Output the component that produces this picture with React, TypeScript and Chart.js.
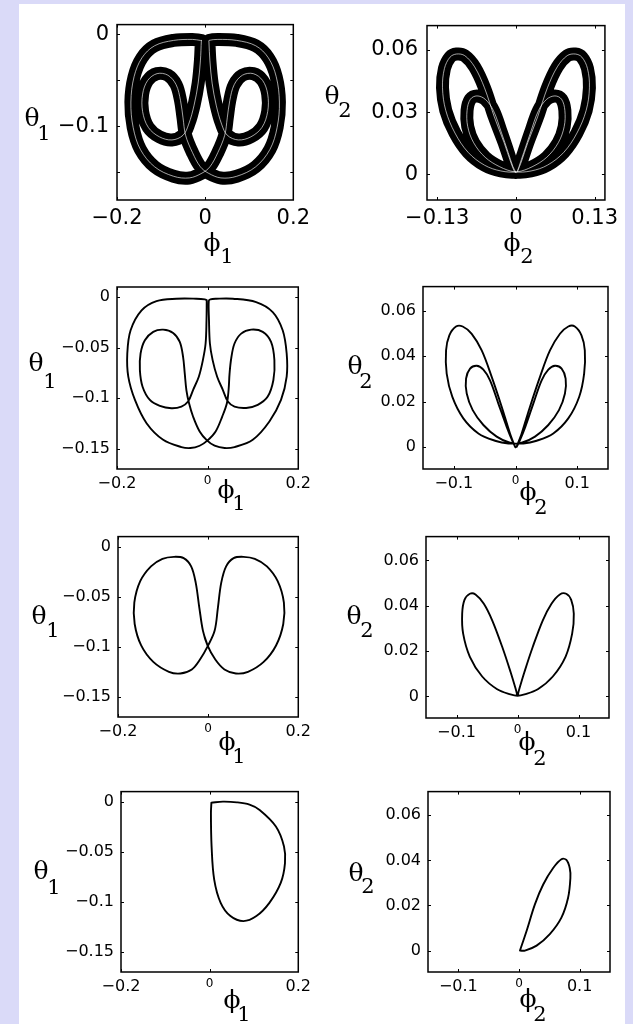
import React, { useEffect, useRef } from "react";
import { Chart, registerables } from "chart.js";

Chart.register(...registerables);

type Pt = [number, number];

// ---------- tick values and tick labels ----------
const PHI1_TICKS = [-0.2, 0, 0.2];
const PHI1_LABELS = ["\u22120.2", "0", "0.2"];
const THETA1_TICKS = [0, -0.05, -0.1, -0.15];
const THETA1_LABELS_TOP = ["0", "", "\u22120.1", ""];
const THETA1_LABELS = ["0", "\u22120.05", "\u22120.1", "\u22120.15"];

const PHI2_TICKS_TOP = [-0.13, 0, 0.13];
const PHI2_LABELS_TOP = ["\u22120.13", "0", "0.13"];
const THETA2_TICKS_TOP = [0, 0.03, 0.06];
const THETA2_LABELS_TOP = ["0", "0.03", "0.06"];
const PHI2_TICKS = [-0.1, 0, 0.1];
const PHI2_LABELS = ["\u22120.1", "0", "0.1"];
const THETA2_TICKS = [0, 0.02, 0.04, 0.06];
const THETA2_LABELS = ["0", "0.02", "0.04", "0.06"];

// ---------- trajectories (phi, theta) ----------
// chaotic attractor, pendulum 1
const CHAOS_1: Pt[] = [
  [-0.0086, -0.0069], [-0.0108, -0.0292], [-0.0158, -0.0533], [-0.0251, -0.0773], [-0.0373, -0.0979],
  [-0.0502, -0.11], [-0.0753, -0.1151], [-0.1039, -0.1117], [-0.129, -0.1014], [-0.1419, -0.0842],
  [-0.1419, -0.0653], [-0.1305, -0.0505], [-0.109, -0.043], [-0.0846, -0.0447], [-0.0659, -0.055],
  [-0.0559, -0.0722], [-0.0502, -0.0911], [-0.0444, -0.11], [-0.0287, -0.1289], [-0.0108, -0.1443],
  [0.0072, -0.1512], [0.0358, -0.1564], [0.0717, -0.1546], [0.1147, -0.1443], [0.147, -0.1254],
  [0.1634, -0.1014], [0.1685, -0.0739], [0.1613, -0.0464], [0.1434, -0.0258], [0.1147, -0.0127],
  [0.0717, -0.0069], [0.0287, -0.0058], [0.0086, -0.0069],
  [0.0086, -0.0086], [0.0108, -0.0292], [0.0158, -0.0533], [0.0251, -0.0773], [0.0373, -0.0979],
  [0.0502, -0.11], [0.0753, -0.1151], [0.1039, -0.1117], [0.129, -0.1014], [0.1419, -0.0842],
  [0.1419, -0.0653], [0.1305, -0.0505], [0.109, -0.043], [0.0846, -0.0447], [0.0659, -0.055],
  [0.0559, -0.0722], [0.0502, -0.0911], [0.0444, -0.11], [0.0287, -0.1289], [0.0108, -0.1443],
  [-0.0072, -0.1512], [-0.0358, -0.1564], [-0.0717, -0.1546], [-0.1147, -0.1443], [-0.147, -0.1254],
  [-0.1634, -0.1014], [-0.1685, -0.0739], [-0.1613, -0.0464], [-0.1434, -0.0258], [-0.1147, -0.0127],
  [-0.0717, -0.0069], [-0.0287, -0.0058], [-0.0108, -0.0069], [-0.0086, -0.0069],
];

// chaotic attractor, pendulum 2
const CHAOS_2: Pt[] = [
  [0, 0.0009], [-0.0049, 0.0036], [-0.013, 0.0106], [-0.0238, 0.0199], [-0.0374, 0.0308],
  [-0.0509, 0.0362], [-0.0645, 0.0378], [-0.0753, 0.0362], [-0.0808, 0.0308], [-0.0797, 0.023],
  [-0.0699, 0.0152], [-0.0509, 0.0082], [-0.0266, 0.0036], [-0.0022, 0.0012], [0.0249, 0.0016],
  [0.052, 0.0044], [0.0791, 0.0106], [0.1008, 0.0199], [0.116, 0.0308], [0.1214, 0.0417],
  [0.1182, 0.051], [0.1089, 0.0565], [0.0981, 0.058], [0.0846, 0.0572], [0.0683, 0.0518],
  [0.052, 0.0417], [0.0358, 0.0277], [0.0195, 0.0152], [0.0087, 0.0059], [0.0022, 0.0012],
  [0.0049, 0.0036], [0.013, 0.0106], [0.0238, 0.0199], [0.0374, 0.0308], [0.0509, 0.0362],
  [0.0645, 0.0378], [0.0753, 0.0362], [0.0808, 0.0308], [0.0797, 0.023], [0.0699, 0.0152],
  [0.0509, 0.0082], [0.0266, 0.0036], [0.0022, 0.0012], [-0.0249, 0.0016], [-0.052, 0.0044],
  [-0.0791, 0.0106], [-0.1008, 0.0199], [-0.116, 0.0308], [-0.1214, 0.0417], [-0.1182, 0.051],
  [-0.1089, 0.0565], [-0.0981, 0.058], [-0.0846, 0.0572], [-0.0683, 0.0518], [-0.052, 0.0417],
  [-0.0358, 0.0277], [-0.0195, 0.0152], [-0.0087, 0.0059], [-0.0022, 0.0012], [0, 0.0009],
];

// period-2 orbit, pendulum 1
const P2_1: Pt[] = [
  [-0.002, -0.003], [-0.0025, -0.023], [-0.0045, -0.0459], [-0.0105, -0.0623], [-0.0195, -0.0787],
  [-0.0322, -0.0919], [-0.0432, -0.1033], [-0.0579, -0.1083], [-0.0799, -0.1099], [-0.1055, -0.1076],
  [-0.1275, -0.1017], [-0.1436, -0.0886], [-0.1495, -0.0722], [-0.148, -0.0558], [-0.1385, -0.0427],
  [-0.1201, -0.0344], [-0.0982, -0.0322], [-0.0762, -0.0354], [-0.0615, -0.0443], [-0.0542, -0.0591],
  [-0.0505, -0.0755], [-0.0469, -0.0919], [-0.041, -0.105], [-0.0322, -0.1181], [-0.0176, -0.1329],
  [-0.0015, -0.1417], [0.0154, -0.147], [0.0374, -0.1493], [0.0593, -0.1483], [0.0996, -0.1411],
  [0.1363, -0.123], [0.1619, -0.1017], [0.1744, -0.0787], [0.1744, -0.0558], [0.1656, -0.0328],
  [0.1436, -0.0148], [0.107, -0.0049], [0.0557, -0.0016], [0.019, -0.0016], [0.006, -0.0022],
  [0.0025, -0.0039], [0.003, -0.023], [0.005, -0.0459], [0.011, -0.0623], [0.021, -0.0787],
  [0.0337, -0.0919], [0.0447, -0.1033], [0.0593, -0.1083], [0.085, -0.1096], [0.1106, -0.1066],
  [0.1326, -0.0984], [0.1451, -0.082], [0.1473, -0.0623], [0.1399, -0.0443], [0.1216, -0.0344],
  [0.096, -0.0322], [0.074, -0.0361], [0.0593, -0.0459], [0.052, -0.0607], [0.0484, -0.0755],
  [0.0462, -0.0919], [0.0425, -0.105], [0.0322, -0.1181], [0.0176, -0.1329], [0, -0.1417],
  [-0.0176, -0.147], [-0.0381, -0.1493], [-0.0579, -0.1483], [-0.0982, -0.1411], [-0.1348, -0.1247],
  [-0.1604, -0.1017], [-0.1751, -0.0787], [-0.1773, -0.0558], [-0.17, -0.0328], [-0.1458, -0.0131],
  [-0.1128, -0.0039], [-0.0689, -0.0016], [-0.0249, -0.0016], [-0.006, -0.0022], [-0.002, -0.003],
];

// period-2 orbit, pendulum 2
const P2_2: Pt[] = [
  [0, 0], [-0.0046, 0.0025], [-0.0143, 0.009], [-0.0278, 0.0192], [-0.0413, 0.0294],
  [-0.0521, 0.0341], [-0.0629, 0.0358], [-0.0737, 0.0345], [-0.0802, 0.0301], [-0.0791, 0.0236],
  [-0.0694, 0.0163], [-0.0521, 0.0098], [-0.0305, 0.0047], [-0.0089, 0.002], [0.0127, 0.0017],
  [0.0343, 0.0029], [0.0613, 0.0061], [0.0856, 0.0127], [0.1032, 0.0221], [0.1113, 0.0323],
  [0.1124, 0.0425], [0.107, 0.0491], [0.0962, 0.053], [0.0856, 0.053], [0.0721, 0.0498],
  [0.0559, 0.0425], [0.0397, 0.0309], [0.0235, 0.0178], [0.01, 0.0061], [0.0019, 0.0003],
  [0.0062, 0.0025], [0.0159, 0.009], [0.0289, 0.0192], [0.0424, 0.0294], [0.0532, 0.0341],
  [0.064, 0.0358], [0.0748, 0.0345], [0.0813, 0.0301], [0.0802, 0.0236], [0.0705, 0.0163],
  [0.0532, 0.0098], [0.0316, 0.0047], [0.01, 0.002], [-0.0116, 0.0017], [-0.0332, 0.0029],
  [-0.0602, 0.0061], [-0.0846, 0.0127], [-0.1024, 0.0221], [-0.1116, 0.0323], [-0.1126, 0.0425],
  [-0.1073, 0.0491], [-0.0965, 0.053], [-0.0856, 0.053], [-0.071, 0.0498], [-0.0548, 0.0425],
  [-0.0386, 0.0309], [-0.0224, 0.0178], [-0.0089, 0.0061], [-0.0008, 0.0003], [0, 0],
];

// symmetric period-1 orbit, pendulum 1
const P1_1: Pt[] = [
  [-0.0014, -0.0986], [-0.0116, -0.0838], [-0.0196, -0.0608], [-0.0275, -0.0362], [-0.0377, -0.0197],
  [-0.0543, -0.0115], [-0.0761, -0.0102], [-0.1014, -0.0122], [-0.1268, -0.0197], [-0.1507, -0.0345],
  [-0.1638, -0.0559], [-0.163, -0.0772], [-0.1486, -0.0986], [-0.1217, -0.115], [-0.087, -0.1249],
  [-0.0616, -0.1266], [-0.0362, -0.1226], [-0.0181, -0.1127], [0, -0.0986], [0.0145, -0.0838],
  [0.0217, -0.0608], [0.029, -0.0362], [0.0399, -0.0197], [0.0565, -0.0115], [0.0783, -0.0102],
  [0.1036, -0.0122], [0.1304, -0.0197], [0.1543, -0.0345], [0.1681, -0.0559], [0.1667, -0.0772],
  [0.1507, -0.0986], [0.1232, -0.115], [0.0884, -0.1249], [0.0616, -0.1266], [0.0362, -0.1226],
  [0.0159, -0.1127], [-0.0014, -0.0986], [-0.0116, -0.0838], [-0.0196, -0.0608],
];

// symmetric period-1 orbit, pendulum 2
const P1_2: Pt[] = [
  [0, 0.0003], [-0.0033, 0.0036], [-0.0115, 0.0109], [-0.0251, 0.0219], [-0.0415, 0.0336],
  [-0.0552, 0.0409], [-0.0689, 0.045], [-0.0781, 0.0453], [-0.0869, 0.0426], [-0.0907, 0.0365],
  [-0.0891, 0.0277], [-0.0781, 0.0175], [-0.0579, 0.0088], [-0.0333, 0.0032], [-0.0115, 0.0009],
  [0, 0.0003], [0.0115, 0.0009], [0.0333, 0.0032], [0.0579, 0.0088], [0.0787, 0.0175],
  [0.0896, 0.0277], [0.0923, 0.0365], [0.088, 0.0426], [0.0798, 0.0453], [0.0694, 0.045],
  [0.0557, 0.0409], [0.0415, 0.0336], [0.0251, 0.0219], [0.0115, 0.0109], [0.0033, 0.0036],
  [0, 0.0003],
];

// asymmetric orbit, pendulum 1
const ASYM_1: Pt[] = [
  [0.004, -0.001], [0.03, 0], [0.0615, -0.0007], [0.09, -0.003], [0.1128, -0.0083],
  [0.1495, -0.0248], [0.1678, -0.0447], [0.17, -0.0613], [0.1604, -0.0811], [0.1348, -0.101],
  [0.1055, -0.1142], [0.0762, -0.1192], [0.0469, -0.1142], [0.0249, -0.101], [0.0103, -0.0778],
  [0.0044, -0.0447], [0.0029, -0.0116], [0.004, -0.001],
];

// asymmetric orbit, pendulum 2
const ASYM_2: Pt[] = [
  [0.0016, 0], [0.0126, 0.0088], [0.0262, 0.0205], [0.0399, 0.0293], [0.0563, 0.0366],
  [0.0699, 0.0405], [0.0781, 0.0402], [0.0836, 0.0366], [0.0847, 0.0322], [0.0809, 0.0234],
  [0.0699, 0.0146], [0.0508, 0.0073], [0.029, 0.0022], [0.0098, 0], [0.0016, 0],
];

// ---------- panel layout ----------
type Rect = [number, number, number, number];
interface Curve { points: Pt[]; width: number; color: string }
interface Panel {
  cell: Rect; box: Rect;
  xMin: number; xMax: number; yMin: number; yMax: number;
  xTicks: number[]; xLabels: string[]; yTicks: number[]; yLabels: string[];
  tickSize: number; zeroXSize: number; xPad: number; yPad: number;
  curves: Curve[];
  yName: string; ySub: string; xName: string; xSub: string;
  yNamePos: Pt; ySubPos: Pt; xNamePos: Pt; xSubPos: Pt;
}

const INK = "#000000";
const PAPER = "#ffffff";
const STREAK = "rgba(255,255,255,0.8)";
const THIN = 1.9;
const BAND = 13;
const STREAK_W = 0.8;

const PANELS: Panel[] = [
  {
    cell: [19, 4, 297, 266], box: [117, 15, 186, 185],
    xMin: -0.2, xMax: 0.2, yMin: -0.1804, yMax: 0.0103,
    xTicks: PHI1_TICKS, xLabels: PHI1_LABELS, yTicks: THETA1_TICKS, yLabels: THETA1_LABELS_TOP,
    tickSize: 21, zeroXSize: 21, xPad: 6, yPad: 8,
    curves: [{ points: CHAOS_1, width: BAND, color: INK }, { points: CHAOS_1, width: STREAK_W, color: STREAK }],
    yName: "\u03b8", ySub: "1", xName: "\u03d5", xSub: "1",
    yNamePos: [32, 119], ySubPos: [44, 135], xNamePos: [212, 244], xSubPos: [227, 258],
  },
  {
    cell: [316, 4, 309, 266], box: [427, 15, 181, 185],
    xMin: -0.147, xMax: 0.147, yMin: -0.0124, yMax: 0.0717,
    xTicks: PHI2_TICKS_TOP, xLabels: PHI2_LABELS_TOP, yTicks: THETA2_TICKS_TOP, yLabels: THETA2_LABELS_TOP,
    tickSize: 21, zeroXSize: 21, xPad: 6, yPad: 9,
    curves: [{ points: CHAOS_2, width: BAND, color: INK }, { points: CHAOS_2, width: STREAK_W, color: STREAK }],
    yName: "\u03b8", ySub: "2", xName: "\u03d5", xSub: "2",
    yNamePos: [332, 97], ySubPos: [345, 112], xNamePos: [512, 244], xSubPos: [527, 258],
  },
  {
    cell: [19, 270, 297, 250], box: [117, 287, 182, 182],
    xMin: -0.2, xMax: 0.2, yMin: -0.17, yMax: 0.01,
    xTicks: PHI1_TICKS, xLabels: PHI1_LABELS, yTicks: THETA1_TICKS, yLabels: THETA1_LABELS,
    tickSize: 16, zeroXSize: 12, xPad: 5, yPad: 7,
    curves: [{ points: P2_1, width: THIN, color: INK }],
    yName: "\u03b8", ySub: "1", xName: "\u03d5", xSub: "1",
    yNamePos: [36, 364], ySubPos: [50, 383], xNamePos: [226, 491], xSubPos: [239, 505],
  },
  {
    cell: [316, 270, 309, 250], box: [423, 286, 185, 183],
    xMin: -0.15, xMax: 0.15, yMin: -0.0095, yMax: 0.0705,
    xTicks: PHI2_TICKS, xLabels: PHI2_LABELS, yTicks: THETA2_TICKS, yLabels: THETA2_LABELS,
    tickSize: 16, zeroXSize: 12, xPad: 5, yPad: 7,
    curves: [{ points: P2_2, width: THIN, color: INK }],
    yName: "\u03b8", ySub: "2", xName: "\u03d5", xSub: "2",
    yNamePos: [355, 367], ySubPos: [366, 383], xNamePos: [528, 493], xSubPos: [541, 509],
  },
  {
    cell: [19, 520, 297, 255], box: [118, 535, 184, 182],
    xMin: -0.2, xMax: 0.2, yMin: -0.17, yMax: 0.01,
    xTicks: PHI1_TICKS, xLabels: PHI1_LABELS, yTicks: THETA1_TICKS, yLabels: THETA1_LABELS,
    tickSize: 16, zeroXSize: 12, xPad: 5, yPad: 7,
    curves: [{ points: P1_1, width: THIN, color: INK }],
    yName: "\u03b8", ySub: "1", xName: "\u03d5", xSub: "1",
    yNamePos: [39, 617], ySubPos: [53, 632], xNamePos: [227, 743], xSubPos: [239, 758],
  },
  {
    cell: [316, 520, 309, 255], box: [426, 535, 183, 183],
    xMin: -0.15, xMax: 0.15, yMin: -0.0095, yMax: 0.0705,
    xTicks: PHI2_TICKS, xLabels: PHI2_LABELS, yTicks: THETA2_TICKS, yLabels: THETA2_LABELS,
    tickSize: 16, zeroXSize: 12, xPad: 5, yPad: 7,
    curves: [{ points: P1_2, width: THIN, color: INK }],
    yName: "\u03b8", ySub: "2", xName: "\u03d5", xSub: "2",
    yNamePos: [354, 617], ySubPos: [367, 632], xNamePos: [527, 743], xSubPos: [540, 760],
  },
  {
    cell: [19, 775, 297, 249], box: [121, 791, 182, 181],
    xMin: -0.2, xMax: 0.2, yMin: -0.17, yMax: 0.01,
    xTicks: PHI1_TICKS, xLabels: PHI1_LABELS, yTicks: THETA1_TICKS, yLabels: THETA1_LABELS,
    tickSize: 16, zeroXSize: 12, xPad: 5, yPad: 7,
    curves: [{ points: ASYM_1, width: THIN, color: INK }],
    yName: "\u03b8", ySub: "1", xName: "\u03d5", xSub: "1",
    yNamePos: [41, 872], ySubPos: [54, 889], xNamePos: [232, 1001], xSubPos: [244, 1016],
  },
  {
    cell: [316, 775, 309, 249], box: [428, 790, 182, 182],
    xMin: -0.15, xMax: 0.15, yMin: -0.0095, yMax: 0.0705,
    xTicks: PHI2_TICKS, xLabels: PHI2_LABELS, yTicks: THETA2_TICKS, yLabels: THETA2_LABELS,
    tickSize: 16, zeroXSize: 12, xPad: 5, yPad: 7,
    curves: [{ points: ASYM_2, width: THIN, color: INK }],
    yName: "\u03b8", ySub: "2", xName: "\u03d5", xSub: "2",
    yNamePos: [356, 874], ySubPos: [368, 888], xNamePos: [528, 1000], xSubPos: [540, 1016],
  },
];

const X_BAND = 40;
const Y_BAND = 90;
const TICK_FAMILY = '"DejaVu Sans", sans-serif';
const NAME_FONT = '25px "DejaVu Serif", "Liberation Serif", serif';
const SUB_FONT = '21px "DejaVu Serif", "Liberation Serif", serif';

// box outline with short inward tick marks on all four sides
const framePlugin = {
  id: "frame",
  afterDraw(chart: any) {
    const { ctx, chartArea: a, scales } = chart;
    const len = 3;
    ctx.save();
    ctx.strokeStyle = INK;
    ctx.lineWidth = 1.5;
    ctx.strokeRect(a.left, a.top, a.right - a.left, a.bottom - a.top);
    ctx.lineWidth = 1;
    ctx.beginPath();
    for (const t of scales.x.ticks) {
      const px = Math.round(scales.x.getPixelForValue(t.value)) + 0.5;
      ctx.moveTo(px, a.bottom); ctx.lineTo(px, a.bottom - len);
      ctx.moveTo(px, a.top); ctx.lineTo(px, a.top + len);
    }
    for (const t of scales.y.ticks) {
      const py = Math.round(scales.y.getPixelForValue(t.value)) + 0.5;
      ctx.moveTo(a.left, py); ctx.lineTo(a.left + len, py);
      ctx.moveTo(a.right, py); ctx.lineTo(a.right - len, py);
    }
    ctx.stroke();
    ctx.restore();
  },
};

// axis names with numeric subscripts
function namePlugin(p: Panel) {
  return {
    id: "axisNames",
    afterDraw(chart: any) {
      const ctx = chart.ctx;
      const [cx, cy] = p.cell;
      ctx.save();
      ctx.fillStyle = INK;
      ctx.textAlign = "center";
      ctx.textBaseline = "middle";
      const put = (text: string, font: string, pos: Pt) => {
        ctx.font = font;
        ctx.fillText(text, pos[0] - cx, pos[1] - cy);
      };
      put(p.yName, NAME_FONT, p.yNamePos);
      put(p.ySub, SUB_FONT, p.ySubPos);
      put(p.xName, NAME_FONT, p.xNamePos);
      put(p.xSub, SUB_FONT, p.xSubPos);
      ctx.restore();
    },
  };
}

function buildConfig(p: Panel): any {
  const [cx, cy, cw, ch] = p.cell;
  const [bx, by, bw, bh] = p.box;
  const padding = {
    left: bx - cx - Y_BAND,
    top: by - cy,
    right: cx + cw - (bx + bw),
    bottom: cy + ch - (by + bh) - X_BAND,
  };
  const font = (size: number) => ({ family: TICK_FAMILY, size, lineHeight: 1.2 });
  const n = p.curves.length;
  return {
    type: "scatter",
    data: {
      datasets: p.curves.map((c, i) => ({
        data: c.points.map(([x, y]) => ({ x, y })),
        order: n - i,
        showLine: true,
        borderColor: c.color,
        borderWidth: c.width,
        pointRadius: 0,
        pointHoverRadius: 0,
        tension: 0.35,
        borderJoinStyle: "round",
        borderCapStyle: "round",
        fill: false,
      })),
    },
    options: {
      animation: false,
      responsive: true,
      maintainAspectRatio: false,
      events: [],
      layout: { autoPadding: false, padding },
      plugins: { legend: { display: false }, tooltip: { enabled: false }, title: { display: false } },
      scales: {
        x: {
          type: "linear",
          position: "bottom",
          min: p.xMin,
          max: p.xMax,
          grid: { display: false, drawTicks: false },
          border: { display: false },
          afterBuildTicks: (s: any) => { s.ticks = p.xTicks.map((v) => ({ value: v })); },
          afterFit: (s: any) => { s.height = X_BAND; },
          ticks: {
            autoSkip: false,
            maxRotation: 0,
            minRotation: 0,
            padding: p.xPad,
            color: INK,
            font: (ctx: any) => font(ctx.tick && ctx.tick.value === 0 ? p.zeroXSize : p.tickSize),
            callback: (_v: any, i: number) => p.xLabels[i],
          },
        },
        y: {
          type: "linear",
          position: "left",
          min: p.yMin,
          max: p.yMax,
          grid: { display: false, drawTicks: false },
          border: { display: false },
          afterBuildTicks: (s: any) => { s.ticks = p.yTicks.map((v) => ({ value: v })); },
          afterFit: (s: any) => { s.width = Y_BAND; },
          ticks: {
            autoSkip: false,
            padding: p.yPad,
            color: INK,
            font: font(p.tickSize),
            callback: (_v: any, i: number) => p.yLabels[i],
          },
        },
      },
    },
    plugins: [framePlugin, namePlugin(p)],
  };
}

function PhasePanel({ p }: { p: Panel }) {
  const ref = useRef<HTMLCanvasElement | null>(null);
  useEffect(() => {
    if (!ref.current) return;
    const chart = new Chart(ref.current, buildConfig(p));
    return () => chart.destroy();
  }, [p]);
  const [x, y, w, h] = p.cell;
  return (
    <div style={{ position: "absolute", left: x, top: y, width: w, height: h }}>
      <canvas ref={ref} />
    </div>
  );
}

export default function App() {
  return (
    <div
      style={{
        position: "absolute",
        left: 0,
        top: 0,
        width: 633,
        height: 1024,
        background: "#dadaf8",
        overflow: "hidden",
      }}
    >
      <div style={{ position: "absolute", left: 19, top: 4, width: 606, height: 1020, background: PAPER }} />
      {PANELS.map((p, i) => (
        <PhasePanel key={i} p={p} />
      ))}
    </div>
  );
}
